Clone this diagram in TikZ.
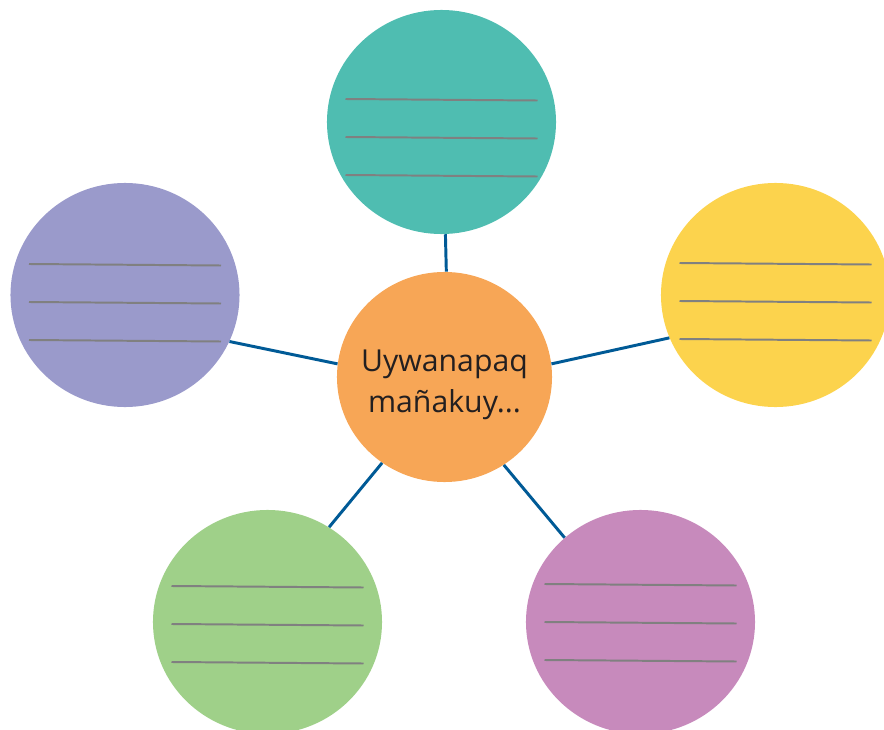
\documentclass[tikz,border=0pt]{standalone}
\usepackage{fontspec}
\setmainfont{Open Sans}
\usetikzlibrary{shapes.geometric}
\definecolor{tealc}{RGB}{79,189,177}
\definecolor{yellowc}{RGB}{252,211,77}
\definecolor{orangec}{RGB}{247,166,86}
\definecolor{purplec}{RGB}{154,154,203}
\definecolor{greenc}{RGB}{159,208,137}
\definecolor{pinkc}{RGB}{199,138,188}
\definecolor{linkc}{RGB}{0,90,150}
\definecolor{rulec}{RGB}{128,128,128}
\definecolor{inkc}{RGB}{35,31,32}
\tikzstyle{bubble} = [ellipse, inner sep=0pt, minimum width=5.725cm, minimum height=5.6cm, draw=none]
\tikzstyle{hubc} = [ellipse, inner sep=0pt, minimum width=5.375cm, minimum height=5.25cm, draw=none, fill=orangec]
\tikzstyle{hubtext} = [text=inkc, align=center, font=\fontsize{21.5}{29}\selectfont, yshift=-0.2cm]
\tikzstyle{link} = [line width=2.1pt, draw=linkc]
\tikzstyle{rule} = [line width=1.4pt, draw=rulec]

\begin{document}
\begin{tikzpicture}[x=0.025cm, y=-0.025cm]
\useasboundingbox (0,0) rectangle (884,730);

\node (c1) [bubble, fill=tealc] at (441.5,122) {};
\node (c2) [bubble, fill=yellowc] at (775.5,295) {};
\node (c3) [bubble, fill=pinkc] at (640.5,622) {};
\node (c4) [bubble, fill=greenc] at (267.5,622) {};
\node (c5) [bubble, fill=purplec] at (125,295) {};
\node (hub) [hubc] at (444.5,377) {};
\node (hubtxt) [hubtext] at (hub.center) {Uywanapaq\\mañakuy...};

\draw [link] (hub.89) -- (c1.-88.5);
\draw [link] (hub.7.5) -- (c2.202.6);
\draw [link] (hub.-56.8) -- (c3.132);
\draw [link] (hub.234) -- (c4.57);
\draw [link] (hub.173.6) -- (c5.-24);

% writing lines
\foreach \n/\dy in {c1/-23,c2/-32,c3/-38,c4/-36,c5/-31}
  \foreach \k in {0,1,2}
    \draw [rule] ([shift={(-96,\dy+38*\k)}]\n.center) -- ([shift={(96,\dy+38*\k+1.5)}]\n.center);

\end{tikzpicture}
\end{document}
